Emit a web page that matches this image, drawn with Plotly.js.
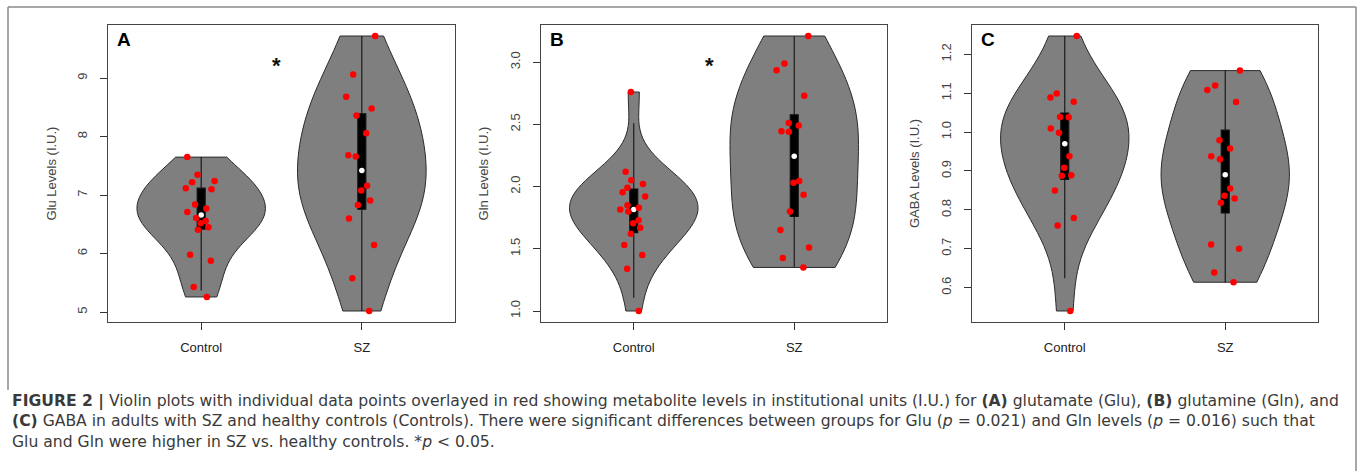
<!DOCTYPE html>
<html>
<head>
<meta charset="utf-8">
<script src="https://cdn.plot.ly/plotly-3.0.1.min.js"></script>
<style>
html, body { margin: 0; padding: 0; background: #ffffff; }
#chart { width: 1358px; height: 471px; }
</style>
</head>
<body>
<div id="chart"></div>
<script>
// ---------- data ----------
const groups = ['Control', 'SZ'];
const groupPos = [1, 2];

const gluControl = [7.65, 7.35, 7.22, 7.24, 7.10, 7.12, 6.84, 6.77, 6.71, 6.61, 6.52, 6.56, 6.41, 6.45, 5.98, 5.88, 5.43, 5.26];
const gluSZ = [9.72, 9.06, 8.68, 8.48, 8.36, 8.06, 7.68, 7.66, 7.16, 7.08, 6.91, 6.83, 6.60, 6.15, 5.58, 5.02];

const glnControl = [2.76, 2.12, 2.05, 2.02, 1.99, 1.955, 1.92, 1.85, 1.83, 1.815, 1.80, 1.73, 1.705, 1.67, 1.62, 1.53, 1.45, 1.34, 1.00];
const glnSZ = [3.21, 2.99, 2.935, 2.73, 2.51, 2.49, 2.44, 2.445, 2.045, 2.03, 1.935, 1.80, 1.65, 1.51, 1.425, 1.35];

const gabaControl = [1.247, 1.099, 1.089, 1.078, 1.039, 1.038, 1.009, 0.998, 0.938, 0.908, 0.888, 0.889, 0.850, 0.779, 0.760, 0.540];
const gabaSZ = [1.158, 1.120, 1.108, 1.077, 0.979, 0.958, 0.938, 0.930, 0.855, 0.836, 0.829, 0.818, 0.711, 0.700, 0.639, 0.614];

// box-plot statistics as drawn in the figure: [Control, SZ]
const gluQ1 = [6.42, 6.76];
const gluMedian = [6.66, 7.42];
const gluQ3 = [7.12, 8.39];
const gluLowWhisker = [5.37, 5.02];
const gluHighWhisker = [7.65, 9.72];

const glnQ1 = [1.63, 1.76];
const glnMedian = [1.816, 2.244];
const glnQ3 = [1.98, 2.577];
const glnLowWhisker = [1.107, 1.353];
const glnHighWhisker = [2.508, 3.207];

const gabaQ1 = [0.878, 0.792];
const gabaMedian = [0.970, 0.890];
const gabaQ3 = [1.049, 1.005];
const gabaLowWhisker = [0.624, 0.613];
const gabaHighWhisker = [1.247, 1.158];

const yTitles = ['Glu Levels (I.U.)', 'Gln Levels (I.U.)', 'GABA Levels (I.U.)'];
const panelLetters = ['A', 'B', 'C'];
const yTickVals = [[5, 6, 7, 8, 9], [1.0, 1.5, 2.0, 2.5, 3.0], [0.6, 0.7, 0.8, 0.9, 1.0, 1.1, 1.2]];
const yTickDecimals = [0, 1, 1];
const significant = [true, true, false];

const captionLines = [
  '<b>FIGURE 2 |</b> Violin plots with individual data points overlayed in red showing metabolite levels in institutional units (I.U.) for <b>(A)</b> glutamate (Glu), <b>(B)</b> glutamine (Gln), and',
  '<b>(C)</b> GABA in adults with SZ and healthy controls (Controls). There were significant differences between groups for Glu (<i>p</i> = 0.021) and Gln levels (<i>p</i> = 0.016) such that',
  'Glu and Gln were higher in SZ vs. healthy controls. *<i>p</i> &lt; 0.05.'
];

// ---------- helpers ----------
const W = 1358, H = 471;
const FONT = 'Liberation Sans, Arial, Helvetica, sans-serif';
const CAPTION_FONT = 'DejaVu Sans, Open Sans, Liberation Sans, sans-serif';
const px = v => v / W;
const py = v => 1 - v / H;

function sd(a) {
  const m = a.reduce((s, v) => s + v, 0) / a.length;
  return Math.sqrt(a.reduce((s, v) => s + (v - m) * (v - m), 0) / (a.length - 1));
}
// normal-reference bandwidth (as used by sm.density / vioplot)
function hnorm(a) { return sd(a) * Math.pow(4 / (3 * a.length), 0.2); }

function extendRange(arrs) {
  const all = [].concat(...arrs);
  const lo = Math.min(...all), hi = Math.max(...all);
  const pad = (hi - lo) * 0.04;
  return [lo - pad, hi + pad];
}

const panels = [
  {ctrl: gluControl, sz: gluSZ, q1: gluQ1, med: gluMedian, q3: gluQ3, lo: gluLowWhisker, hi: gluHighWhisker},
  {ctrl: glnControl, sz: glnSZ, q1: glnQ1, med: glnMedian, q3: glnQ3, lo: glnLowWhisker, hi: glnHighWhisker},
  {ctrl: gabaControl, sz: gabaSZ, q1: gabaQ1, med: gabaMedian, q3: gabaQ3, lo: gabaLowWhisker, hi: gabaHighWhisker}
];

const xDomains = [[108, 455], [540.7, 887.3], [971.7, 1318.3]];
const yDomain = [py(322), py(25)];

const violinTraces = [], boxTraces = [], medianTraces = [], pointTraces = [];
const layout = {
  width: W, height: H,
  margin: {l: 0, r: 0, t: 0, b: 0},
  paper_bgcolor: '#ffffff', plot_bgcolor: '#ffffff',
  showlegend: false,
  violinmode: 'overlay', boxmode: 'overlay',
  font: {family: FONT, color: '#333333'},
  annotations: [], shapes: []
};

panels.forEach((p, i) => {
  const sfx = i === 0 ? '' : String(i + 1);
  const xa = 'x' + sfx, ya = 'y' + sfx;
  const series = [p.ctrl, p.sz];

  series.forEach((vals, g) => {
    violinTraces.push({
      type: 'violin', x0: groupPos[g], y: vals, xaxis: xa, yaxis: ya,
      name: groups[g], width: 0.8, scalemode: 'width', spanmode: 'hard',
      bandwidth: hnorm(vals), side: 'both',
      fillcolor: '#7f7f7f', line: {color: '#2b2b2b', width: 1},
      points: false, box: {visible: false}, meanline: {visible: false},
      hoverinfo: 'skip'
    });
    pointTraces.push({
      type: 'box', x0: groupPos[g], y: vals, xaxis: xa, yaxis: ya,
      name: groups[g], width: 0.28, boxpoints: 'all', jitter: 0.85, pointpos: 0,
      fillcolor: 'rgba(0,0,0,0)', line: {color: 'rgba(0,0,0,0)', width: 0},
      whiskerwidth: 0,
      marker: {color: '#ff0000', size: 6.5, line: {width: 0}},
      hoverinfo: 'y'
    });
  });

  boxTraces.push({
    type: 'box', x: groupPos, q1: p.q1, median: p.med, q3: p.q3,
    lowerfence: p.lo, upperfence: p.hi, xaxis: xa, yaxis: ya,
    width: 0.05, whiskerwidth: 0, boxpoints: false,
    fillcolor: '#000000', line: {color: '#111111', width: 1.1},
    hoverinfo: 'skip'
  });
  medianTraces.push({
    type: 'box', x: groupPos, y: p.med, xaxis: xa, yaxis: ya,
    width: 0.05, boxpoints: 'all', jitter: 0, pointpos: 0,
    fillcolor: 'rgba(0,0,0,0)', line: {color: 'rgba(0,0,0,0)', width: 0},
    whiskerwidth: 0,
    marker: {color: '#ffffff', size: 5.5, line: {width: 0}},
    hoverinfo: 'skip'
  });

  const yr = extendRange(series);
  layout['xaxis' + sfx] = {
    domain: [px(xDomains[i][0]), px(xDomains[i][1])], anchor: ya,
    range: [0.42, 2.58], tickvals: groupPos, ticktext: groups,
    ticks: 'outside', ticklen: 7, tickwidth: 1, tickcolor: '#333333',
    ticklabelstandoff: 6,
    showline: true, mirror: true, linecolor: '#444444', linewidth: 1,
    showgrid: false, zeroline: false, fixedrange: true,
    tickfont: {family: FONT, size: 13, color: '#222222'}
  };
  layout['yaxis' + sfx] = {
    domain: yDomain, anchor: xa, range: yr,
    tickvals: yTickVals[i], ticktext: yTickVals[i].map(v => v.toFixed(yTickDecimals[i])),
    tickangle: -90,
    ticks: 'outside', ticklen: 7, tickwidth: 1, tickcolor: '#333333',
    ticklabelstandoff: 8,
    showline: true, mirror: true, linecolor: '#444444', linewidth: 1,
    showgrid: false, zeroline: false, fixedrange: true,
    tickfont: {family: FONT, size: 13, color: '#444444'},
    title: {text: yTitles[i], font: {family: FONT, size: 13, color: '#444444'}, standoff: 15}
  };

  layout.annotations.push({
    xref: 'paper', yref: 'paper', x: px(xDomains[i][0] + 7), y: py(40),
    xanchor: 'left', yanchor: 'middle', showarrow: false,
    text: '<b>' + panelLetters[i] + '</b>',
    font: {family: FONT, size: 19, color: '#000000'}
  });
  if (significant[i]) {
    layout.annotations.push({
      xref: 'x' + sfx, yref: 'paper', x: 1.47, y: py(66),
      xanchor: 'center', yanchor: 'middle', showarrow: false,
      text: '<b>*</b>', font: {family: FONT, size: 22, color: '#111111'}
    });
  }
});

// caption: one multi-line text block
layout.annotations.push({
  xref: 'paper', yref: 'paper', x: px(10), y: py(421.4),
  xanchor: 'left', yanchor: 'middle', showarrow: false, align: 'left',
  text: captionLines.join('<br>'),
  font: {family: CAPTION_FONT, size: 15.6, color: '#3a3a3a'}
});

// figure frame
const frameColor = '#8a8a8a';
layout.shapes.push(
  {type: 'line', xref: 'paper', yref: 'paper', x0: px(8), x1: px(1356), y0: py(7), y1: py(7), line: {color: frameColor, width: 1.5}},
  {type: 'line', xref: 'paper', yref: 'paper', x0: px(8), x1: px(8), y0: py(7), y1: py(390), line: {color: frameColor, width: 1.5}},
  {type: 'line', xref: 'paper', yref: 'paper', x0: px(1356), x1: px(1356), y0: py(7), y1: py(471), line: {color: frameColor, width: 1.5}}
);

const data = [].concat(violinTraces, boxTraces, medianTraces, pointTraces);
Plotly.newPlot('chart', data, layout, {displayModeBar: false, staticPlot: true});
</script>
</body>
</html>
